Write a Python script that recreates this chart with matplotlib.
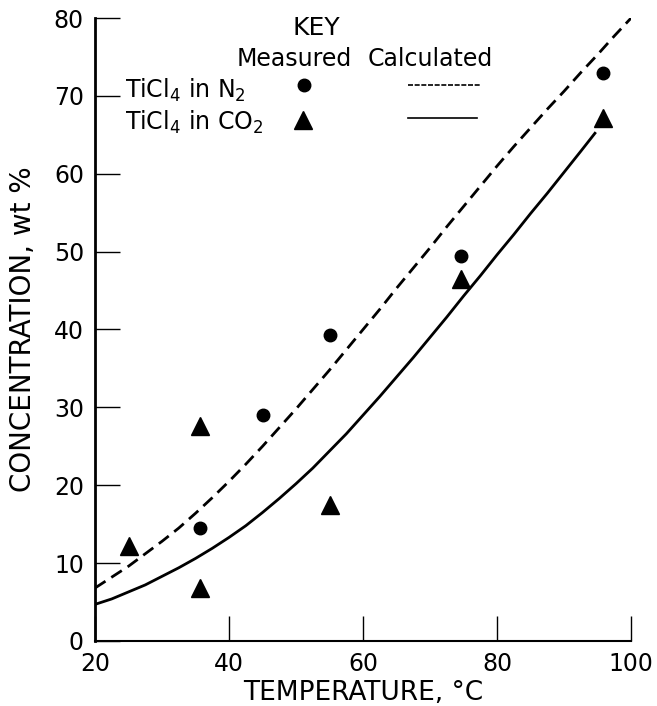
import matplotlib
matplotlib.use('Agg')
import matplotlib.pyplot as plt

# measured points
n2_temp = [35.7, 45, 55, 74.6, 95.8]
n2_conc = [14.5, 29, 39.3, 49.5, 73]
co2_temp = [25, 35.7, 35.7, 55, 74.6, 95.8]
co2_conc = [12.2, 27.6, 6.8, 17.5, 46.5, 67.2]

# calculated curves
calc_n2_temp = [20, 22.5, 25, 27.5, 30, 32.5, 35, 37.5, 40, 42.5, 45, 47.5, 50, 52.5, 55, 57.5, 60, 62.5,
                65, 67.5, 70, 72.5, 75, 77.5, 80, 82.5, 85, 87.5, 90, 92.5, 95, 97.5, 100]
calc_n2_conc = [6.8, 8.2, 9.6, 11.2, 12.8, 14.5, 16.4, 18.4, 20.5, 22.7, 25.0, 27.4, 29.8, 32.3, 34.8,
                37.4, 40.0, 42.6, 45.3, 47.9, 50.5, 53.2, 55.8, 58.4, 61.0, 63.5, 65.9, 68.3, 70.6, 73.0,
                75.3, 77.7, 80.0]
calc_co2_temp = [20, 22.5, 25, 27.5, 30, 32.5, 35, 37.5, 40, 42.5, 45, 47.5, 50, 52.5, 55, 57.5, 60, 62.5,
                 65, 67.5, 70, 72.5, 75, 77.5, 80, 82.5, 85, 87.5, 90, 92.5, 94.6]
calc_co2_conc = [4.7, 5.4, 6.3, 7.2, 8.3, 9.4, 10.6, 11.9, 13.3, 14.8, 16.5, 18.3, 20.2, 22.2, 24.4,
                 26.6, 29.0, 31.4, 33.9, 36.4, 39.0, 41.6, 44.3, 46.9, 49.6, 52.2, 54.9, 57.5, 60.2,
                 62.9, 65.2]

plt.rcParams['font.family'] = 'DejaVu Sans'
fig = plt.figure(figsize=(6.57, 7.06), dpi=100)
ax = fig.add_axes([0.1446, 0.0921, 0.816, 0.8824])

ax.plot(calc_n2_temp, calc_n2_conc, color='black', lw=2, dashes=(4.5, 2.5))
ax.plot(calc_co2_temp, calc_co2_conc, color='black', lw=2)
ax.plot(n2_temp, n2_conc, 'o', color='black', ms=9)
ax.plot(co2_temp, co2_conc, '^', color='black', ms=13)

ax.set_xlim(20, 100)
ax.set_ylim(0, 80)
ax.set_xticks([20, 40, 60, 80, 100])
ax.set_yticks(range(0, 90, 10))
ax.spines['top'].set_visible(False)
ax.spines['right'].set_visible(False)
ax.spines['left'].set_linewidth(2)
ax.spines['bottom'].set_linewidth(1.5)
ax.tick_params(direction='in', length=18, width=1, labelsize=17, pad=8)
ax.set_xlabel('TEMPERATURE, °C', fontsize=19, labelpad=3)
ax.set_ylabel('CONCENTRATION, wt %', fontsize=20, labelpad=12)

# key
ax.text(53.0, 78.7, 'KEY', fontsize=18, ha='center', va='center')
ax.text(49.7, 74.7, 'Measured', fontsize=17, ha='center', va='center')
ax.text(70.0, 74.7, 'Calculated', fontsize=17, ha='center', va='center')
ax.text(24.5, 70.7, r'TiCl$_4$ in N$_2$', fontsize=17, ha='left', va='center')
ax.text(24.5, 66.6, r'TiCl$_4$ in CO$_2$', fontsize=17, ha='left', va='center')
ax.plot([51.2], [71.4], 'o', color='black', ms=9)
ax.plot([51.0], [66.9], '^', color='black', ms=13)
ax.plot([66.7, 77.5], [71.4, 71.4], color='black', lw=1.2, dashes=(3, 1))
ax.plot([66.7, 77.0], [67.1, 67.1], color='black', lw=1.2)

fig.savefig('out.png', dpi=100)
